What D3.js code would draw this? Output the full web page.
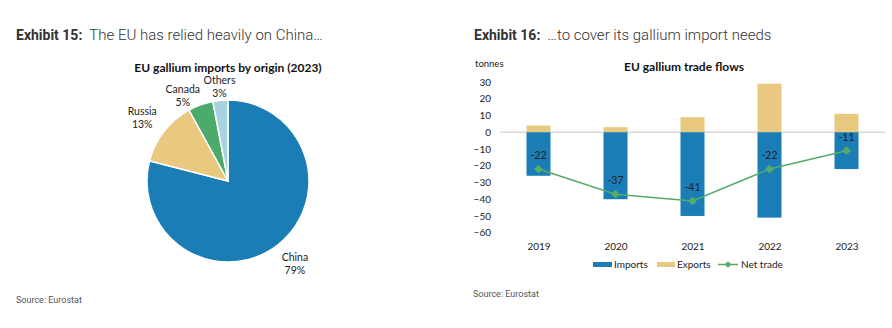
<!DOCTYPE html>
<html><head><meta charset="utf-8">
<script src="https://cdn.jsdelivr.net/npm/d3@7"></script>
<style>
html,body{margin:0;padding:0;background:#fff;}
svg{display:block;}
</style></head>
<body>
<svg id="c" width="892" height="328"></svg>
<script>
// ---- data ----
const pieCategories = ["China", "Russia", "Canada", "Others"];
const pieShares = [79, 13, 5, 3];
const pieColors = ["#1a7db5", "#e8c97f", "#4caa6a", "#a7d3e1"];

const years = ["2019", "2020", "2021", "2022", "2023"];
const imports = [-26, -40, -50, -51, -22];
const exports = [4, 3, 9, 29, 11];
const netTrade = [-22, -37, -41, -22, -11];
const yTicks = [30, 20, 10, 0, -10, -20, -30, -40, -50, -60];

const svg = d3.select("#c");
const hdrFont = "Roboto, 'Noto Sans', sans-serif";
const chFont = "Lato, 'Open Sans', sans-serif";

// ---- headers ----
function header(x, num, text) {
  const t = svg.append("text").attr("x", x).attr("y", 40)
    .attr("font-family", hdrFont).attr("fill", "#333");
  t.append("tspan").attr("font-weight", "bold").attr("font-size", 14).text(num);
  t.append("tspan").attr("font-weight", 300).attr("font-size", 15).attr("dx", 7).text(text);
}
header(16, "Exhibit 15:", "The EU has relied heavily on China…");
header(474, "Exhibit 16:", "…to cover its gallium import needs");

// sources
svg.append("text").attr("x", 16).attr("y", 303).attr("font-family", hdrFont)
  .attr("font-size", 9).attr("fill", "#555").text("Source: Eurostat");
svg.append("text").attr("x", 473).attr("y", 297).attr("font-family", hdrFont)
  .attr("font-size", 9).attr("fill", "#555").text("Source: Eurostat");

// ---- pie ----
const cx = 228, cy = 181, R = 81;
svg.append("text").attr("x", cx).attr("y", 72).attr("text-anchor", "middle")
  .attr("font-family", chFont).attr("font-weight", "bold").attr("font-size", 12)
  .attr("fill", "#111").text("EU gallium imports by origin (2023)");

const pie = d3.pie().sort(null).value(d => d)(pieShares);
const arc = d3.arc().innerRadius(0).outerRadius(R);
const gp = svg.append("g").attr("transform", `translate(${cx},${cy})`);
gp.selectAll("path").data(pie).join("path")
  .attr("d", arc).attr("fill", (d, i) => pieColors[i])
  .attr("stroke", "#fff").attr("stroke-width", 1.5);

const labelArc = d3.arc().innerRadius(101).outerRadius(101);
const labelNudge = [[5, 3], [-6, -1], [-11, 10], [1, 7]];
pie.forEach((d, i) => {
  const [lx, ly] = labelArc.centroid(d);
  const t = gp.append("text").attr("text-anchor", "middle")
    .attr("font-family", chFont).attr("font-size", 10.5).attr("fill", "#222")
    .attr("transform", `translate(${lx + labelNudge[i][0]},${ly + labelNudge[i][1]})`);
  t.append("tspan").attr("x", 0).attr("y", -3).text(pieCategories[i]);
  t.append("tspan").attr("x", 0).attr("y", 10).text(pieShares[i] + "%");
});

// ---- bar / line chart ----
svg.append("text").attr("x", 684).attr("y", 71).attr("text-anchor", "middle")
  .attr("font-family", chFont).attr("font-weight", "bold").attr("font-size", 12)
  .attr("fill", "#111").text("EU gallium trade flows");
svg.append("text").attr("x", 475).attr("y", 67)
  .attr("font-family", chFont).attr("font-size", 9.5).attr("fill", "#222").text("tonnes");

const y = d3.scaleLinear().domain([-60, 30]).range([232.7, 82]);
const x = d3.scalePoint().domain(years).range([500, 885]).padding(0.5);
const bw = 24;

const yAxis = d3.axisLeft(y).tickValues(yTicks).tickSize(0).tickPadding(0).tickFormat(d3.format("d"));
const ga = svg.append("g").attr("transform", "translate(491,0)").call(yAxis);
ga.select(".domain").remove();
ga.selectAll("text").attr("font-family", chFont).attr("font-size", 10).attr("fill", "#222");

svg.append("line").attr("x1", 500).attr("x2", 885).attr("y1", y(0)).attr("y2", y(0))
  .attr("stroke", "#d9d9d9").attr("stroke-width", 1.5);

svg.selectAll("rect.exp").data(exports).join("rect").attr("class", "exp")
  .attr("x", (d, i) => x(years[i]) - bw / 2).attr("width", bw)
  .attr("y", d => y(d)).attr("height", d => y(0) - y(d)).attr("fill", "#e8c97f");
svg.selectAll("rect.imp").data(imports).join("rect").attr("class", "imp")
  .attr("x", (d, i) => x(years[i]) - bw / 2).attr("width", bw)
  .attr("y", y(0)).attr("height", d => y(d) - y(0)).attr("fill", "#1a7db5");

const line = d3.line().x((d, i) => x(years[i])).y(d => y(d));
svg.append("path").datum(netTrade).attr("d", line).attr("fill", "none")
  .attr("stroke", "#55aa6c").attr("stroke-width", 1.5);
const diamond = d3.symbol().type(d3.symbolDiamond2).size(50);
svg.selectAll("path.mk").data(netTrade).join("path").attr("class", "mk")
  .attr("d", diamond).attr("fill", "#55aa6c")
  .attr("transform", (d, i) => `translate(${x(years[i])},${y(d)})`);
svg.selectAll("text.nl").data(netTrade).join("text").attr("class", "nl")
  .attr("x", (d, i) => x(years[i])).attr("y", d => y(d) - 10)
  .attr("text-anchor", "middle").attr("font-family", chFont).attr("font-size", 10.5)
  .attr("fill", "#222").text(d => d);

const xAxis = d3.axisBottom(x).tickSize(0).tickPadding(0);
const gx = svg.append("g").attr("transform", "translate(0,250)").call(xAxis);
gx.select(".domain").remove();
gx.selectAll("text").attr("dy", 0).attr("font-family", chFont).attr("font-size", 10).attr("fill", "#222");

// legend
const lg = svg.append("g").attr("font-family", chFont).attr("font-size", 10).attr("fill", "#222");
lg.append("rect").attr("x", 593).attr("y", 262).attr("width", 19).attr("height", 5).attr("fill", "#1a7db5");
lg.append("text").attr("x", 614).attr("y", 268).text("Imports");
lg.append("rect").attr("x", 657).attr("y", 262).attr("width", 18).attr("height", 5).attr("fill", "#e8c97f");
lg.append("text").attr("x", 677).attr("y", 268).text("Exports");
lg.append("line").attr("x1", 718).attr("x2", 738).attr("y1", 264.5).attr("y2", 264.5)
  .attr("stroke", "#55aa6c").attr("stroke-width", 1.5);
lg.append("path").attr("d", d3.symbol().type(d3.symbolDiamond2).size(28)).attr("fill", "#55aa6c")
  .attr("transform", "translate(728,264.5)");
lg.append("text").attr("x", 741).attr("y", 268).text("Net trade");
</script>
</body></html>
